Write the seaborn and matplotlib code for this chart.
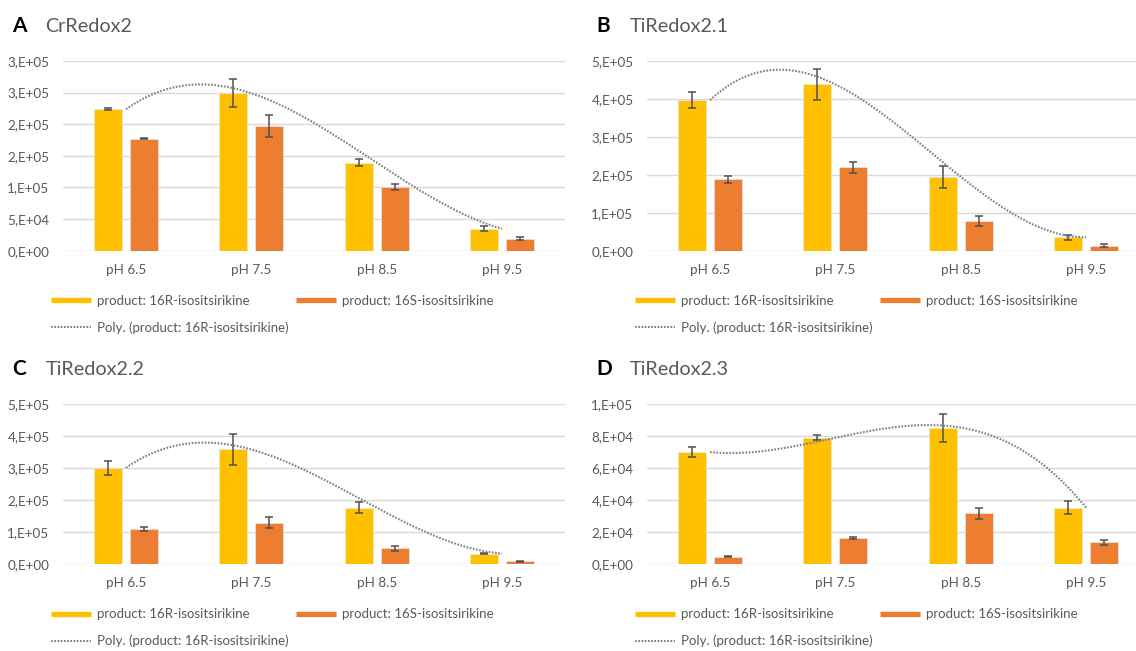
import numpy as np
import pandas as pd
import matplotlib
matplotlib.use("Agg")
import matplotlib.pyplot as plt
from matplotlib.lines import Line2D
import seaborn as sns

# ---------------- data ----------------
ph_labels = ["pH 6.5", "pH 7.5", "pH 8.5", "pH 9.5"]
series_names = ["product: 16R-isositsirikine", "product: 16S-isositsirikine"]
trend_label = "Poly. (product: 16R-isositsirikine)"

panel_letters = ["A", "B", "C", "D"]
panel_titles = ["CrRedox2", "TiRedox2.1", "TiRedox2.2", "TiRedox2.3"]

# panel A: CrRedox2
a_16r = [223700, 249000, 139200, 34800]
a_16r_err = [1500, 22000, 5300, 4200]
a_16s = [177200, 197300, 100800, 19000]
a_16s_err = [1200, 17400, 4700, 2400]

# panel B: TiRedox2.1
b_16r = [396800, 438500, 195100, 35600]
b_16r_err = [21700, 40400, 28600, 6500]
b_16s = [188000, 219700, 78200, 13700]
b_16s_err = [8400, 15000, 13600, 3800]

# panel C: TiRedox2.2
c_16r = [301500, 358600, 176700, 33300]
c_16r_err = [22300, 48300, 17200, 2600]
c_16s = [110200, 130000, 49900, 9400]
c_16s_err = [7300, 17200, 7300, 2000]

# panel D: TiRedox2.3
d_16r = [70100, 79000, 85400, 35400]
d_16r_err = [3100, 1450, 8700, 4000]
d_16s = [4800, 16400, 31800, 13700]
d_16s_err = [400, 900, 3400, 1400]

a_ticks = [0, 50000, 100000, 150000, 200000, 250000, 300000]
a_ticklabels = ["0,E+00", "5,E+04", "1,E+05", "2,E+05", "2,E+05", "3,E+05", "3,E+05"]
bc_ticks = [0, 100000, 200000, 300000, 400000, 500000]
bc_ticklabels = ["0,E+00", "1,E+05", "2,E+05", "3,E+05", "4,E+05", "5,E+05"]
d_ticks = [0, 20000, 40000, 60000, 80000, 100000]
d_ticklabels = ["0,E+00", "2,E+04", "4,E+04", "6,E+04", "8,E+04", "1,E+05"]

# ---------------- style ----------------
YELLOW = "#FFC000"
ORANGE = "#ED7D31"
GRID = "#D9D9D9"
TXT = "#595959"
ERR = "#505050"
TREND = "#7F7F7F"

sns.set_theme(style="white")
plt.rcParams["font.family"] = ["Lato", "DejaVu Sans"]

W, H = 1136, 651
fig = plt.figure(figsize=(W / 100, H / 100), dpi=100)


def fx(px):
    return px / W


def fy(py):
    return 1 - py / H


panels = [
    (a_16r, a_16r_err, a_16s, a_16s_err, a_ticks, a_ticklabels),
    (b_16r, b_16r_err, b_16s, b_16s_err, bc_ticks, bc_ticklabels),
    (c_16r, c_16r_err, c_16s, c_16s_err, bc_ticks, bc_ticklabels),
    (d_16r, d_16r_err, d_16s, d_16s_err, d_ticks, d_ticklabels),
]

# layout in pixels: (axes left, axes top, axes bottom)
axw = 501.4
boxes = [
    (63.3, 61.0, 250.7),
    (647.3, 61.0, 250.7),
    (63.3, 404.2, 564.3),
    (647.3, 404.2, 564.3),
]

for i, (r, rerr, s, serr, ticks, tlabels) in enumerate(panels):
    left, top, bottom = boxes[i]
    ax = fig.add_axes([fx(left), fy(bottom), axw / W, (bottom - top) / H])

    df = pd.DataFrame({
        "pH": ph_labels * 2,
        "product": [series_names[0]] * 4 + [series_names[1]] * 4,
        "value": list(r) + list(s),
    })
    sns.barplot(data=df, x="pH", y="value", hue="product",
                palette=[YELLOW, ORANGE], width=0.575, gap=0.224,
                errorbar=None, ax=ax, legend=False, saturation=1,
                edgecolor="#E6E6E6", linewidth=0.5, zorder=2)

    # error bars, positioned on the drawn bars
    for cont, errs in zip(ax.containers, [rerr, serr]):
        xs = [b.get_x() + b.get_width() / 2 for b in cont]
        ys = [b.get_height() for b in cont]
        ax.errorbar(xs, ys, yerr=errs, fmt="none", ecolor=ERR,
                    elinewidth=1.1, capsize=2.8, capthick=1.1, zorder=4)

    # polynomial (order 3) trendline of 16R series at category positions
    xcat = np.arange(len(ph_labels))
    coef = np.polyfit(xcat, np.array(r, dtype=float), 3)
    xx = np.linspace(0, len(ph_labels) - 1, 300)
    ax.plot(xx, np.polyval(coef, xx), color=TREND, lw=1.5,
            linestyle=(0, (0.8, 0.75)), zorder=5)

    ax.set_xlim(-0.5, 3.5)
    ax.set_ylim(ticks[0], ticks[-1])
    ax.set_yticks(ticks)
    ax.set_yticklabels(tlabels)
    ax.set_xlabel("")
    ax.set_ylabel("")
    for sp in ax.spines.values():
        sp.set_visible(False)
    ax.set_axisbelow(True)
    ax.yaxis.grid(True, color=GRID, lw=1.0, zorder=0)
    ax.xaxis.grid(False)
    ax.tick_params(axis="both", length=0, labelsize=9.7, colors=TXT)
    ax.tick_params(axis="y", pad=10.0)
    ax.tick_params(axis="x", pad=9.5)

    # panel titles
    fig.text(fx(left - 51.3), fy(top - 35.0), panel_letters[i],
             fontsize=15, fontweight="bold", color="black",
             ha="left", va="center")
    fig.text(fx(left - 18.0), fy(top - 35.0), panel_titles[i],
             fontsize=14.2, color=TXT, ha="left", va="center")

    # legend below each panel
    handles = [
        Line2D([0], [0], color=YELLOW, lw=3.8, solid_capstyle="butt"),
        Line2D([0], [0], color=TREND, lw=1.5, linestyle=(0, (0.8, 0.75))),
        Line2D([0], [0], color=ORANGE, lw=3.8, solid_capstyle="butt"),
    ]
    labels = [series_names[0], trend_label, series_names[1]]
    leg = fig.legend(handles, labels, ncol=2, loc="upper left",
                     bbox_to_anchor=(fx(left - 12.3), fy(bottom + 44.0)),
                     bbox_transform=fig.transFigure, frameon=False,
                     fontsize=9.5, handlelength=3.0, handletextpad=0.45,
                     columnspacing=0.6, labelspacing=1.1,
                     borderpad=0, borderaxespad=0)
    for t in leg.get_texts():
        t.set_color(TXT)

fig.savefig("out.png", dpi=100)
